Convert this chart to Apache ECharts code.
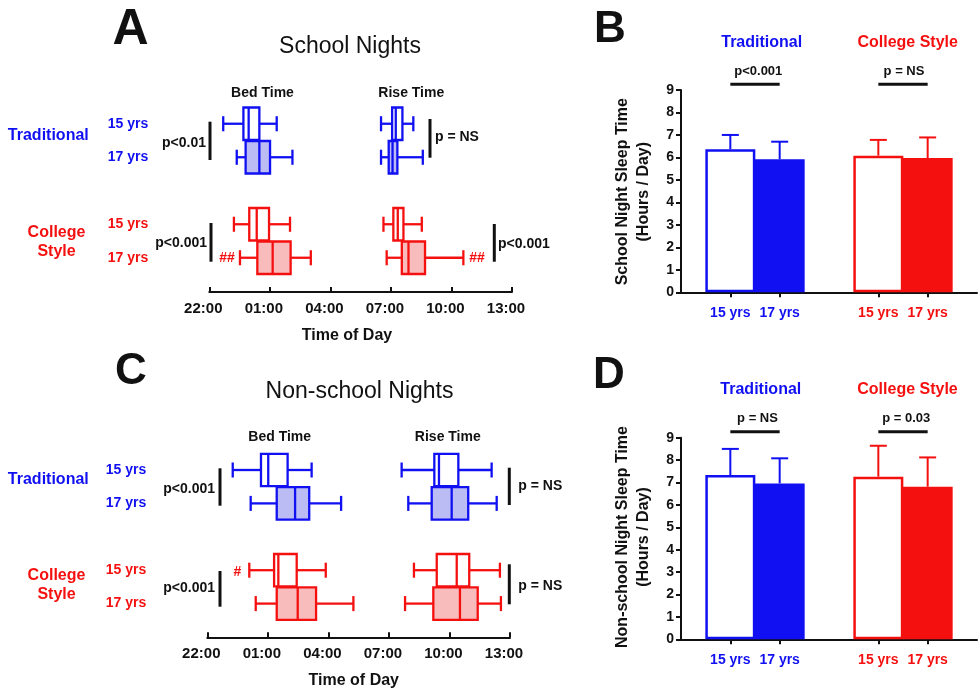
<!DOCTYPE html>
<html><head><meta charset="utf-8">
<script src="https://cdn.jsdelivr.net/npm/echarts@6/dist/echarts.min.js"></script>
<style>html,body{margin:0;padding:0;background:#fff}#c{width:980px;height:691px}</style>
</head><body><div id="c"></div>
<script>
const FONT = '"Liberation Sans", Arial, Helvetica, sans-serif';
const BLUE = '#1010f2', RED = '#f51010', BLUE_FILL = '#bcbcf4', RED_FILL = '#f9bcbc', INK = '#111';

// rows of box panels (A, C)
const rowLabels = ['15 yrs', '17 yrs', '', '15 yrs', '17 yrs'];
const timeTicks = ['22:00', '01:00', '04:00', '07:00', '10:00', '13:00'];
// hours after 22:00: [low whisker, Q1, median, Q3, high whisker]
const schoolBed  = [[0.69,1.69,1.95,2.48,3.34],[1.36,1.80,2.48,3.01,4.12],null,[1.22,1.98,2.35,2.96,4.00],[1.52,2.38,3.14,4.03,5.03]];
const schoolRise = [[8.51,9.06,9.24,9.57,10.11],[8.51,8.89,9.08,9.32,10.58],null,[8.63,9.12,9.34,9.62,10.53],[8.79,9.54,9.87,10.69,12.59]];
const nonBed     = [[1.26,2.66,3.02,3.98,5.17],[2.15,3.44,4.35,5.05,6.63],null,[2.08,3.31,3.52,4.43,5.87],[2.40,3.44,4.48,5.39,7.24]];
const nonRise    = [[9.63,11.25,11.48,12.44,14.09],[9.96,11.12,12.11,12.93,14.34],null,[10.24,11.37,12.36,12.98,14.50],[9.80,11.20,12.52,13.40,14.55]];

// bar panels (B, D)
const barCats = ['', '15 yrs', '17 yrs', '', '15 yrs', '17 yrs', ''];
const schoolSleep    = [null, 6.36, 5.92, null, 6.08, 5.97, null];
const schoolSleepErr = [null, 7.00, 6.70, null, 6.78, 6.89, null];
const nonSleep       = [null, 7.33, 6.96, null, 7.26, 6.81, null];
const nonSleepErr    = [null, 8.50, 8.08, null, 8.64, 8.12, null];

const chart = echarts.init(document.getElementById('c'), null, {renderer: 'canvas'});

function boxData(...sets) {
  const out = [];
  sets.forEach(s => s.forEach((d, i) => { if (d) out.push([i, ...d]); }));
  return out;
}
function boxItem(params, api) {
  const idx = api.value(0);
  const v = [1,2,3,4,5].map(i => api.value(i));
  const X = v.map(x => api.coord([x, idx])[0]);
  const cy = api.coord([v[0], idx])[1];
  const band = api.size([0, 1])[1];
  const bh = band * 0.97, ch = band * 0.45;
  const col = idx < 2 ? BLUE : RED;
  const fill = idx === 1 ? BLUE_FILL : (idx === 4 ? RED_FILL : '#ffffff');
  const ls = {stroke: col, lineWidth: 2.3};
  return {type: 'group', children: [
    {type: 'line', shape: {x1: X[0], y1: cy, x2: X[1], y2: cy}, style: ls},
    {type: 'line', shape: {x1: X[3], y1: cy, x2: X[4], y2: cy}, style: ls},
    {type: 'line', shape: {x1: X[0], y1: cy - ch/2, x2: X[0], y2: cy + ch/2}, style: ls},
    {type: 'line', shape: {x1: X[4], y1: cy - ch/2, x2: X[4], y2: cy + ch/2}, style: ls},
    {type: 'rect', shape: {x: X[1], y: cy - bh/2, width: X[3] - X[1], height: bh}, style: {fill: fill, stroke: col, lineWidth: 2.3}},
    {type: 'line', shape: {x1: X[2], y1: cy - bh/2, x2: X[2], y2: cy + bh/2}, style: ls}
  ]};
}
function barData(vals) {
  return vals.map((v, i) => {
    if (v == null) return '-';
    const col = i < 3 ? BLUE : RED;
    const open = (i === 1 || i === 4);
    return {value: v, itemStyle: open ? {color: '#ffffff', borderColor: col, borderWidth: 2.5}
                                       : {color: col, borderColor: col, borderWidth: 0}};
  });
}
function errData(vals, errs) {
  const out = [];
  vals.forEach((v, i) => { if (v != null) out.push([i, v, errs[i]]); });
  return out;
}
function errItem(params, api) {
  const idx = api.value(0);
  const p0 = api.coord([idx, api.value(1)]);
  const p1 = api.coord([idx, api.value(2)]);
  const col = idx < 3 ? BLUE : RED;
  const st = {stroke: col, lineWidth: 2};
  return {type: 'group', children: [
    {type: 'line', shape: {x1: p0[0], y1: p0[1], x2: p1[0], y2: p1[1]}, style: st},
    {type: 'line', shape: {x1: p1[0] - 8.5, y1: p1[1], x2: p1[0] + 8.5, y2: p1[1]}, style: st}
  ]};
}

function timeAxis(gi, off) {
  return {
    type: 'value', gridIndex: gi, min: 0, max: 15, interval: 3, offset: off,
    axisLine: {show: true, onZero: false, lineStyle: {color: INK, width: 2}},
    axisTick: {show: true, inside: true, length: 5, lineStyle: {color: INK, width: 2}},
    axisLabel: {formatter: v => timeTicks[Math.round(v / 3)], fontFamily: FONT, fontWeight: 'bold', fontSize: 15, color: INK, margin: 9, padding: [0, 12, 0, 0]},
    splitLine: {show: false}
  };
}
function rowAxis(gi) {
  return {
    type: 'category', gridIndex: gi, data: rowLabels, inverse: true,
    axisLine: {show: false}, axisTick: {show: false}, splitLine: {show: false},
    axisLabel: {margin: 61, fontFamily: FONT, fontWeight: 'bold', fontSize: 14, color: (v, i) => i < 2 ? BLUE : RED}
  };
}
function catAxis(gi) {
  return {
    type: 'category', gridIndex: gi, data: barCats, boundaryGap: false,
    axisLine: {show: true, lineStyle: {color: INK, width: 2}},
    axisTick: {show: true, length: 5, interval: (i, v) => v !== '', lineStyle: {color: INK, width: 2}},
    axisLabel: {interval: 0, margin: 14, fontFamily: FONT, fontWeight: 'bold', fontSize: 14, color: (v, i) => i < 3 ? BLUE : RED},
    splitLine: {show: false}
  };
}
function hoursAxis(gi) {
  return {
    type: 'value', gridIndex: gi, min: 0, max: 9, interval: 1,
    axisLine: {show: true, lineStyle: {color: INK, width: 2}},
    axisTick: {show: true, length: 5, lineStyle: {color: INK, width: 2}},
    axisLabel: {margin: 7, fontFamily: FONT, fontWeight: 'bold', fontSize: 14, color: INK},
    splitLine: {show: false}
  };
}

chart.setOption({
  animation: false,
  backgroundColor: '#ffffff',
  grid: [
    {left: 209.3, top: 107, width: 302.7, height: 167.5},
    {left: 207.3, top: 453.3, width: 302.7, height: 167},
    {left: 681, top: 90, width: 303, height: 202.3},
    {left: 681, top: 437.7, width: 303, height: 201.6}
  ],
  xAxis: [timeAxis(0, 17.5), timeAxis(1, 17), catAxis(2), catAxis(3)],
  yAxis: [rowAxis(0), rowAxis(1), hoursAxis(2), hoursAxis(3)],
  series: [
    {type: 'custom', xAxisIndex: 0, yAxisIndex: 0, renderItem: boxItem, encode: {x: [1,2,3,4,5], y: 0}, data: boxData(schoolBed, schoolRise)},
    {type: 'custom', xAxisIndex: 1, yAxisIndex: 1, renderItem: boxItem, encode: {x: [1,2,3,4,5], y: 0}, data: boxData(nonBed, nonRise)},
    {type: 'bar', xAxisIndex: 2, yAxisIndex: 2, barWidth: 50, data: barData(schoolSleep)},
    {type: 'custom', xAxisIndex: 2, yAxisIndex: 2, renderItem: errItem, encode: {x: 0, y: [1,2]}, data: errData(schoolSleep, schoolSleepErr), z: 5},
    {type: 'bar', xAxisIndex: 3, yAxisIndex: 3, barWidth: 50, data: barData(nonSleep)},
    {type: 'custom', xAxisIndex: 3, yAxisIndex: 3, renderItem: errItem, encode: {x: 0, y: [1,2]}, data: errData(nonSleep, nonSleepErr), z: 5}
  ]
});

// ---- annotations ----
const G = [];
function txt(t, x, y, size, opts) {
  opts = opts || {};
  G.push({type: 'text', x: x, y: y, rotation: opts.rot || 0, z: 10,
    style: {text: t, font: (opts.weight || 'bold') + ' ' + size + 'px ' + FONT, fill: opts.color || INK,
      align: opts.align || 'center', verticalAlign: 'middle', lineHeight: opts.lh || size * 1.2}});
}
function vbar(x, y1, y2) {
  G.push({type: 'line', z: 10, shape: {x1: x, y1: y1, x2: x, y2: y2}, style: {stroke: INK, lineWidth: 3}});
}
function hbar(x1, x2, y) {
  G.push({type: 'line', z: 10, shape: {x1: x1, y1: y, x2: x2, y2: y}, style: {stroke: INK, lineWidth: 3}});
}
// panel letters and titles
txt('A', 130.5, 30, 50); txt('B', 610, 30, 44); txt('C', 131, 372, 44); txt('D', 609, 376, 44);
txt('School Nights', 350, 47, 23, {weight: 'normal'});
txt('Non-school Nights', 359.5, 391.7, 23, {weight: 'normal'});
txt('Bed Time', 262.5, 92.7, 14); txt('Rise Time', 411.3, 92.7, 14);
txt('Bed Time', 279.7, 437.3, 14); txt('Rise Time', 447.8, 437.3, 14);
txt('Time of Day', 347, 335.7, 16); txt('Time of Day', 353.8, 681, 16);
// group labels
txt('Traditional', 48.3, 135.7, 16, {color: BLUE});
txt('College\nStyle', 56.5, 242.2, 16, {color: RED, lh: 19});
txt('Traditional', 48.3, 480, 16, {color: BLUE});
txt('College\nStyle', 56.5, 585.2, 16, {color: RED, lh: 18.3});
// p-values panel A
vbar(210, 121.7, 160); txt('p<0.01', 206, 142.7, 14, {align: 'right'});
vbar(211, 223, 261.7); txt('p<0.001', 207, 243.3, 14, {align: 'right'});
vbar(430, 119, 157.7); txt('p = NS', 435, 136.7, 14, {align: 'left'});
vbar(494.3, 224, 261.7); txt('p<0.001', 498, 244, 14, {align: 'left'});
txt('##', 227, 258, 14, {color: RED}); txt('##', 477, 258, 14, {color: RED});
// p-values panel C
vbar(220, 468.3, 505.7); txt('p<0.001', 215, 489, 14, {align: 'right'});
vbar(220, 571, 606.7); txt('p<0.001', 215, 587.7, 14, {align: 'right'});
vbar(509.3, 467.7, 505); txt('p = NS', 518.3, 485.7, 14, {align: 'left'});
vbar(509.3, 564.3, 604.3); txt('p = NS', 518.3, 585.7, 14, {align: 'left'});
txt('#', 237.5, 571.7, 14, {color: RED});
// bar panels
function px(axis, i) { return chart.convertToPixel({xAxisIndex: axis}, i); }
txt('Traditional', 761.7, 42.7, 16, {color: BLUE}); txt('College Style', 907.7, 43, 16, {color: RED});
txt('p<0.001', 758.3, 71.7, 13); hbar(px(2, 1), px(2, 2), 84.3);
txt('p = NS', 904, 71.7, 13); hbar(px(2, 4), px(2, 5), 84.3);
txt('Traditional', 760.8, 389.3, 16, {color: BLUE}); txt('College Style', 907.5, 389.3, 16, {color: RED});
txt('p = NS', 757.5, 418.3, 13); hbar(px(3, 1), px(3, 2), 431.7);
txt('p = 0.03', 906.3, 418.3, 13); hbar(px(3, 4), px(3, 5), 431.7);
txt('School Night Sleep Time\n(Hours / Day)', 632.8, 191.7, 16, {rot: Math.PI / 2, lh: 21});
txt('Non-school Night Sleep Time\n(Hours / Day)', 633, 537, 16, {rot: Math.PI / 2, lh: 21});

chart.setOption({graphic: G});
</script></body></html>
